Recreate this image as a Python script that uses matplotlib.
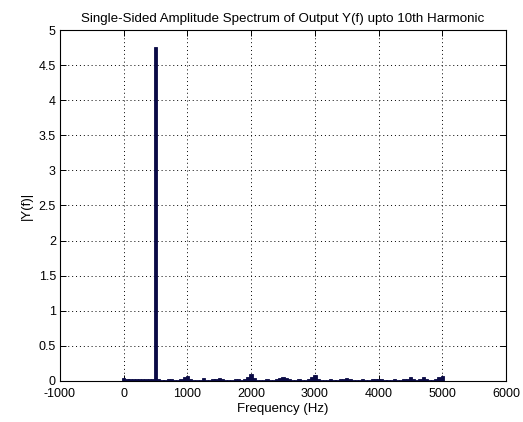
import numpy as np
import matplotlib
matplotlib.use("Agg")
import matplotlib.pyplot as plt

plt.rcParams['font.family'] = ['Liberation Sans', 'DejaVu Sans']

title = "Single-Sided Amplitude Spectrum of Output Y(f) upto 10th Harmonic"
xlabel = "Frequency (Hz)"
ylabel = "|Y(f)|"

# frequency bins (Hz), 50 Hz spacing from 0 to 5000
freqs = np.arange(0, 5001, 50)
# amplitudes
amps = [
    0.04, 0.03, 0.03, 0.03, 0.03, 0.03, 0.03, 0.03, 0.03, 0.03,   # 0-450
    4.76, 0.03, 0.02, 0.02, 0.03, 0.03, 0.02, 0.02, 0.03, 0.05,   # 500-950
    0.07, 0.03, 0.02, 0.02, 0.02, 0.04, 0.02, 0.02, 0.03, 0.03,   # 1000-1450
    0.04, 0.03, 0.02, 0.02, 0.02, 0.03, 0.03, 0.02, 0.03, 0.06,   # 1500-1950
    0.10, 0.04, 0.02, 0.02, 0.02, 0.03, 0.02, 0.02, 0.03, 0.04,   # 2000-2450
    0.05, 0.04, 0.03, 0.02, 0.02, 0.03, 0.02, 0.02, 0.03, 0.05,   # 2500-2950
    0.09, 0.03, 0.02, 0.02, 0.02, 0.03, 0.02, 0.02, 0.03, 0.03,   # 3000-3450
    0.04, 0.03, 0.02, 0.02, 0.02, 0.03, 0.02, 0.02, 0.03, 0.03,   # 3500-3950
    0.03, 0.03, 0.02, 0.02, 0.02, 0.03, 0.02, 0.02, 0.03, 0.03,   # 4000-4450
    0.06, 0.03, 0.02, 0.03, 0.05, 0.03, 0.02, 0.02, 0.03, 0.05,   # 4500-4950
    0.07,                                                         # 5000
]

xticks = [-1000, 0, 1000, 2000, 3000, 4000, 5000, 6000]
yticks = [0, 0.5, 1, 1.5, 2, 2.5, 3, 3.5, 4, 4.5, 5]
ytick_labels = ['0', '0.5', '1', '1.5', '2', '2.5', '3', '3.5', '4', '4.5', '5']

fig = plt.figure(figsize=(5.23, 4.22), dpi=100)
ax = fig.add_axes([0.1147, 0.0972, 0.8528, 0.8317])

ax.bar(freqs, amps, width=52, color='#0a0a45', edgecolor='#0a0a45', linewidth=0.6, zorder=3)

ax.set_xlim(-1000, 6000)
ax.set_ylim(0, 5)
ax.set_xticks(xticks)
ax.set_xticklabels([str(t) for t in xticks])
ax.set_yticks(yticks)
ax.set_yticklabels(ytick_labels)

ax.grid(True, color='black', linestyle=(0, (1, 3)), linewidth=0.7, zorder=1)
ax.tick_params(direction='in', length=4, width=0.7, top=True, right=True,
               labelsize=9, colors='black')
ax.tick_params(axis='x', pad=5)
ax.tick_params(axis='y', pad=3)
for s in ax.spines.values():
    s.set_linewidth(0.8)

ax.set_title(title, fontsize=9.6, pad=6)
ax.set_xlabel(xlabel, fontsize=9.5, labelpad=2)
ax.set_ylabel(ylabel, fontsize=9.5, labelpad=4)

fig.savefig("out.png", dpi=100)
